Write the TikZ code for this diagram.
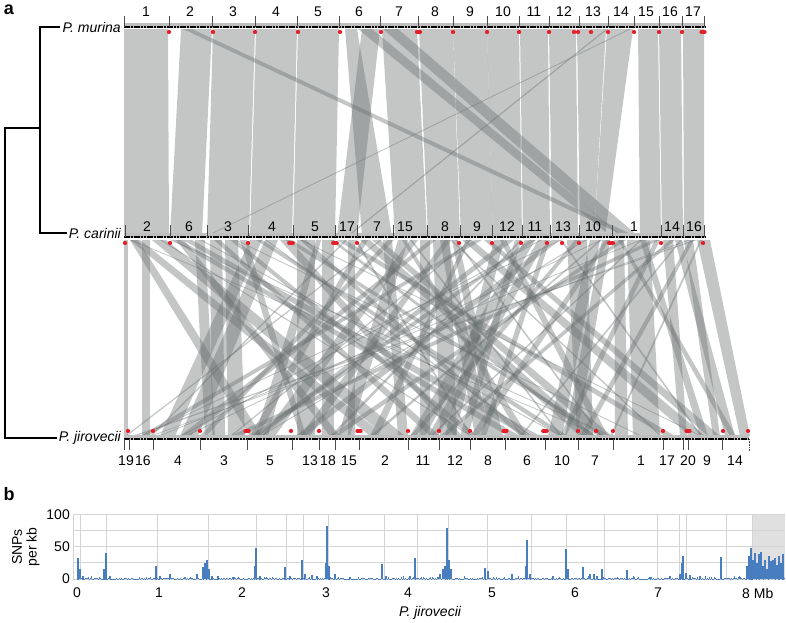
\documentclass[tikz,border=0pt]{standalone}
\usepackage{fontspec}
\setmainfont{Liberation Sans}
\definecolor{synt}{RGB}{100,106,106}
\definecolor{dotred}{RGB}{230,30,40}
\definecolor{snpblue}{RGB}{72,126,192}
\definecolor{gridgray}{RGB}{212,212,212}
\tikzset{
  ribbon/.style={fill=synt, fill opacity=0.38},
  tree/.style={line width=1.6},
  trackband/.style={draw=black!25, line width=5},
  trackline/.style={line width=1.3, dash pattern=on 2.6pt off 0.7pt},
  chrtick/.style={line width=0.6, draw=black!70},
  reddot/.style={draw=dotred, line width=4.2, line cap=round},
  chrnum/.style={font=\fontsize{14}{16}\selectfont, inner sep=0},
  species/.style={font=\fontsize{14}{16}\selectfont\itshape, inner sep=2, anchor=east},
  panel/.style={font=\fontsize{18}{20}\selectfont\bfseries, inner sep=1},
  grid/.style={draw=gridgray, line width=1},
  snp/.style={draw=snpblue, line width=1.1},
  axnum/.style={font=\fontsize{14}{16}\selectfont, inner sep=0}
}
\begin{document}
\begin{tikzpicture}[x=1pt, y=-1pt]
  \useasboundingbox (0,0) rectangle (786,622);
  % panel a: synteny ribbons murina -> carinii
  \foreach \a/\b/\c/\d in {124/168/124/169, 181/212/170/202, 213/255/207/249,
      256/297/250/292, 298/339/293/335, 345/357/362/392, 362/380/337/357,
      382/417/395/427, 419/453/428/460, 453/487/461/493, 487/519/493/522,
      520/548/523/550, 549/576/552/578, 577/606/580/594, 607/633/594/605,
      638/658/640/661, 659/681/662/683, 683/704/684/704,
      183/192/625/635, 358/372/610/622, 383/398/620/638,
      629/631/206/208, 606/608/347/349}
    \fill[ribbon] (\a,29) -- (\b,29) -- (\d,236) -- (\c,236) -- cycle;
  % carinii -> jirovecii
  \foreach \a/\b/\c/\d in {124/128/124/128, 142/150/142/150, 130/140/370/385,
      152/166/385/405, 172/180/508/520, 183/192/525/540, 195/205/205/215,
      210/222/212/225, 225/238/228/245, 240/247/300/306, 250/262/160/175,
      265/278/180/198, 280/290/455/462, 297/315/297/315, 322/334/322/334,
      316/321/255/268, 337/345/665/675, 348/355/348/355, 360/370/580/595,
      372/380/600/612, 383/392/398/408, 398/408/338/350, 410/418/262/275,
      420/430/420/430, 433/450/440/457, 440/448/475/490, 452/458/490/503,
      462/472/690/705, 475/482/140/148, 484/490/708/720, 494/504/445/455,
      506/514/255/262, 515/521/460/468, 525/535/410/425, 538/546/428/438,
      552/560/295/305, 567/587/577/593, 590/600/548/562, 602/610/565/577,
      627/650/633/660, 614/624/615/628, 652/660/230/240, 663/673/680/687,
      675/682/725/735, 684/693/713/720, 697/710/740/750,
      130/138/250/262, 176/184/330/340, 214/220/430/440, 230/236/470/478,
      256/262/560/568, 285/292/600/606, 300/306/520/526, 330/334/590/596,
      362/368/250/258, 388/394/200/206, 402/406/520/528, 430/436/180/190,
      445/451/300/310, 466/470/370/378, 500/506/600/608, 530/536/250/258,
      545/550/480/486, 575/580/410/416, 605/610/470/478, 620/626/330/338,
      655/660/560/566, 670/675/440/446, 690/694/580/586, 640/646/700/708,
      618/622/730/736,
      694/697/132/136, 688/690/150/152, 640/642/158/160, 600/602/185/187,
      560/562/140/142, 130/132/600/602, 160/162/470/472, 200/202/560/562,
      235/237/640/642, 300/302/700/702, 345/347/150/152, 410/412/560/562,
      470/472/230/232, 520/522/330/334, 540/542/180/182, 560/562/700/702,
      600/602/370/374, 640/642/430/432, 680/682/520/522, 700/702/610/612,
      380/382/125/127, 450/452/660/662, 585/587/260/262, 170/172/610/612,
      265/267/530/532, 455/457/600/602, 355/357/470/472}
    \fill[ribbon] (\a,240) -- (\b,240) -- (\d,436) -- (\c,436) -- cycle;
  % chromosome tracks
  \draw[trackband] (124,25) -- (705,25);
  \draw[trackline] (124,27) -- (705,27);
  \draw[trackband] (124,235) -- (705,235);
  \draw[trackline] (124,237) -- (705,237);
  \draw[trackband] (124,437) -- (749,437);
  \draw[trackline] (124,439) -- (749,439);
  \foreach \x in {124,169,212,255,297,339,380,418,453,487,519,549,579,608,634,659,682,704}
    \draw[chrtick] (\x,27) -- (\x,16);
  \foreach \x in {125,170,207,248,293,335,357,393,427,460,492,522,550,579,612,661,683,704}
    \draw[chrtick] (\x,237) -- (\x,225);
  \foreach \x in {124,129,153,200,247,292,319,335,359,408,439,470,505,545,578,613,663,683,688,722}
    \draw[chrtick] (\x,439) -- (\x,450);
  \draw[chrtick, densely dotted] (749,439) -- (749,451);
  % chromosome numbers
  \foreach \x/\n in {146/1, 190/2, 233/3, 276/4, 318/5, 359/6, 399/7, 435/8, 470/9,
      503/10, 534/11, 564/12, 593/13, 621/14, 646/15, 670/16, 693/17}
    \node[chrnum] (m\n) at (\x,12) {\n};
  \foreach \x/\n in {147/2, 189/6, 228/3, 272/4, 315/5, 347/17, 377/7, 405/15, 445/8,
      477/9, 507/12, 535/11, 563/13, 593/10, 634/1, 672/14, 694/16}
    \node[chrnum] (c\n) at (\x,227) {\n};
  \foreach \x/\n in {126/19, 143/16, 178/4, 224/3, 270/5, 310/13, 328/18, 349/15, 385/2,
      423/11, 455/12, 488/8, 527/6, 562/10, 595/7, 641/1, 667/17, 688/20, 707/9, 735/14}
    \node[chrnum] (j\n) at (\x,461) {\n};
  % red marks
  \foreach \x/\w in {169/0.1, 213/0.1, 255/0.1, 298/0.1, 340/0.1, 381/0.1, 418.5/1.5,
      453/0.1, 487/0.1, 519/0.1, 549/0.1, 574/0.1, 578/0.1, 591/0.1, 608/0.1, 634/0.1,
      659/0.1, 682/0.1, 703/1.5}
    \draw[reddot] (\x-\w,32) -- (\x+\w,32);
  \foreach \x/\w in {125/0.1, 170/0.1, 248/0.1, 291/1.8, 335/1.8, 357/0.1, 459/0.1,
      492/0.1, 521/0.1, 547/0.1, 562/0.1, 579/0.1, 611/2, 661/0.1, 703/0.1}
    \draw[reddot] (\x-\w,243) -- (\x+\w,243);
  \foreach \x/\w in {128/0.1, 153/0.1, 200/0.1, 247/1.6, 291/0.1, 319/0.1, 359/1.6,
      408/0.1, 439/0.1, 470/0.1, 505/1.6, 545/1.8, 578/0.1, 596/0.1, 613/0.1, 663/0.1,
      688/1.6, 723/0.1, 748/0.1}
    \draw[reddot] (\x-\w,431) -- (\x+\w,431);
  % tree
  \node[species] (murina) at (123,27) {P. murina};
  \node[species] (carinii) at (123,233) {P. carinii};
  \node[species] (jirovecii) at (123,438) {P. jirovecii};
  \coordinate (anc) at (40,128);
  \coordinate (root) at (5,128);
  \draw[tree] (murina.west) -| (anc) |- (carinii.west);
  \draw[tree] (anc) -- (root) |- (jirovecii.west);
  \node[panel] (pa) at (9,10) {a};
  \node[panel] (pb) at (9,494) {b};
  % panel b: SNP density
  \fill[black!12] (752,514) rectangle (785,579);
  \foreach \v in {0,25,50,75,100}
    \draw[grid] (73,{579-0.65*\v}) -- (785,{579-0.65*\v});
  \foreach \x in {73,80,106,157,208,256,286,303,328,384,417,448,487,531,566,604,657,679,686,726,752}
    \draw[grid] (\x,514) -- (\x,579);
  \pgfmathsetseed{7}
  \foreach \i in {0,...,707} {
    \pgfmathsetmacro\h{rnd*rnd*rnd*6+0.4}
    \draw[snp, line width=0.6] (77+\i,579) -- ++(0,-\h*0.65);
  }
  \foreach \x/\v in {78/32, 80/15, 83/5, 104/15, 106/40, 110/4, 156/20, 160/4, 170/7,
      185/3, 197/8, 203/18, 205/25, 207/29, 209/15, 212/5, 218/4, 234/3, 255/20, 256/48,
      260/4, 285/18, 290/4, 302/30, 305/8, 312/6, 317/5, 326/25, 327/82, 329/20, 335/7,
      350/3, 382/23, 386/4, 410/5, 415/32, 440/8, 443/15, 445/20, 447/78, 449/30, 451/15,
      485/17, 488/12, 512/8, 526/20, 527/60, 530/8, 553/5, 566/46, 568/15, 583/18, 590/7,
      594/8, 597/5, 602/15, 627/14, 650/3, 670/5, 680/8, 682/25, 683/35, 686/10, 690/6,
      700/4, 721/34, 747/20, 749/35, 751/48, 753/30, 755/40, 757/25, 759/38, 761/42,
      763/20, 765/30, 767/15, 769/35, 771/28, 773/30, 775/33, 777/22, 779/36, 781/25, 783/38}
    \draw[snp] (\x,579) -- (\x,{579-0.65*\v});
  \node[axnum, anchor=east] (y100) at (70,515) {100};
  \node[axnum, anchor=east] (y50) at (70,547) {50};
  \node[axnum, anchor=east] (y0) at (70,579) {0};
  \node[axnum, rotate=90] (ylab1) at (17,547) {SNPs};
  \node[axnum, rotate=90] (ylab2) at (33,547) {per kb};
  \foreach \x/\n in {77/0, 159/1, 242/2, 326/3, 408/4, 492/5, 575/6, 658/7}
    \node[axnum] (x\n) at (\x,593) {\n};
  \node[axnum, anchor=west] (x8) at (742,593) {8 Mb};
  \node[axnum, font=\fontsize{14}{16}\selectfont\itshape] (xlab) at (430,613) {P. jirovecii};
\end{tikzpicture}
\end{document}
